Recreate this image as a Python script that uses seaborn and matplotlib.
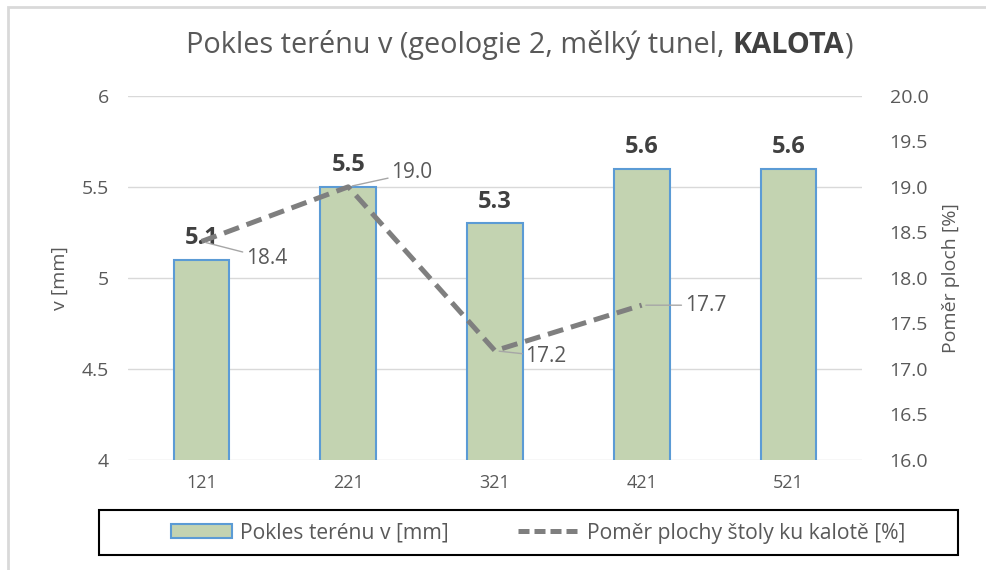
import pandas as pd
import seaborn as sns
import matplotlib.pyplot as plt
import numpy as np
from matplotlib.patches import Patch, Rectangle
from matplotlib.lines import Line2D

# Data
categories = ['121', '221', '321', '421', '521']
pokles = [5.1, 5.5, 5.3, 5.6, 5.6]
pomer = [18.4, 19.0, 17.2, 17.7]
left_ticks = [4, 4.5, 5, 5.5, 6]
right_ticks = [16.0, 16.5, 17.0, 17.5, 18.0, 18.5, 19.0, 19.5, 20.0]

bar_label = 'Pokles terénu v [mm]'
line_label = 'Poměr plochy štoly ku kalotě [%]'

sns.set_theme(style='white')
plt.rcParams['font.family'] = ['Open Sans', 'DejaVu Sans']

txt = '#595959'
bar_fill = '#c3d3b1'
bar_edge = '#5b9bd5'
line_col = '#7f7f7f'

fig = plt.figure(figsize=(9.86, 5.70), dpi=100)
ax = fig.add_axes([0.13, 0.193, 0.744, 0.639])

df = pd.DataFrame({'cat': categories, 'v': pokles})
sns.barplot(data=df, x='cat', y='v', order=categories, color=bar_fill,
            edgecolor=bar_edge, linewidth=1.5, width=0.38, saturation=1, ax=ax)

ax.set_ylim(4, 6)
ax.set_yticks(left_ticks)
ax.set_yticklabels(['4', '4.5', '5', '5.5', '6'])
ax.set_xlim(-0.5, len(categories) - 0.5)
ax.yaxis.grid(True, color='#d9d9d9', linewidth=1)
ax.set_axisbelow(True)
ax.set_xlabel('')
ax.set_ylabel('v [mm]', fontsize=14, color=txt, labelpad=9)
ax.tick_params(axis='y', colors=txt, labelsize=14, length=0, pad=14)
ax.tick_params(axis='x', colors=txt, labelsize=13, length=0, pad=10)
for s in ax.spines.values():
    s.set_visible(False)

# bar value labels
for i, v in enumerate(pokles):
    ax.annotate(f'{v:.1f}', (i, v), xytext=(0, 7), textcoords='offset points',
                ha='center', va='bottom', fontsize=17, fontweight='bold',
                color='#404040')

# line on secondary axis
ax2 = ax.twinx()
dl = pd.DataFrame({'x': np.arange(len(pomer)), 'p': pomer})
sns.lineplot(data=dl, x='x', y='p', ax=ax2, color=line_col, linewidth=3.6,
             linestyle=(0, (3.2, 1.6)))
ax2.set_ylim(16, 20)
ax2.set_yticks(right_ticks)
ax2.set_yticklabels([f'{t:.1f}' for t in right_ticks])
ax2.tick_params(axis='y', colors=txt, labelsize=14, length=0, pad=20)
ax2.set_ylabel('Poměr ploch [%]', fontsize=14, color=txt, labelpad=10)
ax2.set_xlabel('')
for s in ax2.spines.values():
    s.set_visible(False)

# line value labels with leader lines
offsets = [(32, -12), (31, 10), (22, -4), (31, 0)]
for i, (p, off) in enumerate(zip(pomer, offsets)):
    ax2.annotate(f'{p:.1f}', (i, p), xytext=off, textcoords='offset points',
                 ha='left', va='center', fontsize=15, color=txt,
                 arrowprops=dict(arrowstyle='-', color='#a6a6a6', lw=1,
                                 shrinkA=0, shrinkB=3))

# title (normal + bold + normal pieces)
t1 = fig.text(186 / 986, 1 - 60 / 570, 'Pokles terénu v (geologie 2, mělký tunel, ',
              ha='left', va='bottom', fontsize=20.8, color=txt)
t2 = fig.add_artist(plt.Annotation('KALOTA', xy=(1, 0), xycoords=t1, ha='left',
                                   va='bottom', fontsize=20.8, color='#404040',
                                   fontweight='bold'))
fig.add_artist(plt.Annotation(')', xy=(1, 0), xycoords=t2, ha='left',
                              va='bottom', fontsize=20.8, color=txt))

# legend box
fig.patches.append(Rectangle((99 / 986, 1 - 555 / 570), 859 / 986, 45 / 570,
                             transform=fig.transFigure, fill=False,
                             edgecolor='black', linewidth=1.5))
handles = [Patch(facecolor=bar_fill, edgecolor=bar_edge, linewidth=1.5),
           Line2D([], [], color=line_col, linewidth=3.6, linestyle=(0, (2.2, 1.0)))]
fig.legend(handles, [bar_label, line_label], loc='center left',
           bbox_to_anchor=(152 / 986, 1 - 533 / 570), ncol=2, frameon=False,
           fontsize=15.2, labelcolor=txt, handlelength=2.9, handleheight=0.6,
           handletextpad=0.35, columnspacing=3.3)

# outer chart border (partially visible)
fig.patches.append(Rectangle((8 / 986, -0.1), 1.2, 1 - 7 / 570 + 0.1,
                             transform=fig.transFigure, fill=False,
                             edgecolor='#d9d9d9', linewidth=2))

fig.savefig('out.png', dpi=100)
